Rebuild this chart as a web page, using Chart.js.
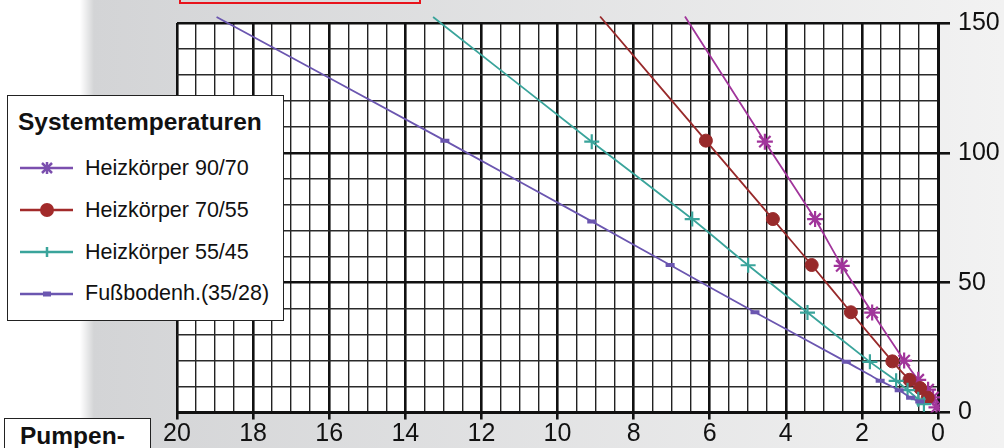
<!DOCTYPE html>
<html>
<head>
<meta charset="utf-8">
<script src="https://cdn.jsdelivr.net/npm/chart.js@4/dist/chart.umd.min.js"></script>
<style>
  html, body { margin: 0; padding: 0; overflow: hidden; background: #fff; }
  #wrap { position: relative; width: 1004px; height: 448px; font-family: "Liberation Sans", Arial, sans-serif; }
  #c { position: absolute; left: 0; top: 0; }
  #redbox { position: absolute; left: 179px; top: -12px; width: 238px; height: 12px; border: 2px solid #e8141c; }
  #legend { position: absolute; left: 7px; top: 95px; width: 275px; height: 224px; background: #fff; border: 1.5px solid #222; }
  #legend .title { position: absolute; left: 10px; top: 12px; font-weight: bold; font-size: 24.5px; line-height: 28px; color: #111; white-space: nowrap; }
  #legend .item { position: absolute; left: 12px; height: 24px; }
  #legend .item svg { position: absolute; left: 0; top: 0; }
  #legend .item span { position: absolute; left: 65px; top: 0; font-size: 21.5px; line-height: 24px; color: #111; white-space: nowrap; }
  #pumpen { position: absolute; left: 4px; top: 418px; width: 145px; height: 40px; background: #fff; border: 1.5px solid #222; }
  #pumpen span { position: absolute; left: 15px; top: 3px; font-weight: bold; font-size: 24.5px; line-height: 28px; color: #111; }
</style>
</head>
<body>
<div id="wrap">
  <canvas id="c" width="1004" height="448"></canvas>
  <div id="redbox"></div>
  <div id="legend">
    <div class="title">Systemtemperaturen</div>
    <div class="item" style="top:60px"><svg width="60" height="24"><line x1="0" y1="12" x2="53" y2="12" stroke="#7b4fae" stroke-width="2.5"/><g stroke="#7b4fae" stroke-width="2.5"><line x1="22" y1="7" x2="32" y2="17"/><line x1="32" y1="7" x2="22" y2="17"/><line x1="27" y1="6" x2="27" y2="18"/></g></svg><span>Heizkörper 90/70</span></div>
    <div class="item" style="top:102px"><svg width="60" height="24"><line x1="0" y1="12" x2="53" y2="12" stroke="#a22a2a" stroke-width="2.5"/><circle cx="27" cy="12" r="7" fill="#a22a2a"/></svg><span>Heizkörper 70/55</span></div>
    <div class="item" style="top:144px"><svg width="60" height="24"><line x1="0" y1="12" x2="53" y2="12" stroke="#3aa49b" stroke-width="2.5"/><line x1="27" y1="7" x2="27" y2="17" stroke="#3aa49b" stroke-width="2.5"/></svg><span>Heizkörper 55/45</span></div>
    <div class="item" style="top:185px"><svg width="60" height="24"><line x1="0" y1="13" x2="53" y2="13" stroke="#6b56b0" stroke-width="2.5"/><rect x="23" y="10.5" width="8" height="5" fill="#6b56b0"/></svg><span>Fußbodenh.(35/28)</span></div>
  </div>
  <div id="pumpen"><span>Pumpen-</span></div>
</div>
<script>
// Heizkörper 90/70
var hk9070X = [6.65, 4.55, 3.23, 2.53, 1.73, 0.89, 0.52, 0.26, 0.13, 0.04];
var hk9070Y = [152.5, 104.3, 74.5, 56.5, 38.5, 20, 12.6, 8.8, 5.8, 2];
// Heizkörper 70/55
var hk7055X = [8.88, 6.10, 4.34, 3.32, 2.29, 1.20, 0.75, 0.47, 0.27];
var hk7055Y = [152.5, 104.7, 74.5, 56.8, 38.6, 19.7, 12.6, 9.4, 5.7];
// Heizkörper 55/45
var hk5545X = [13.27, 9.10, 6.46, 4.99, 3.43, 1.79, 1.10, 0.80, 0.52, 0.37];
var hk5545Y = [152.3, 104.3, 74.5, 56.7, 38.5, 19.5, 12.2, 8.6, 5.1, 3.2];
// Fußbodenheizung 35/28
var fbX = [18.96, 12.96, 9.10, 7.04, 4.81, 2.41, 1.52, 1.02, 0.72, 0.48];
var fbY = [152.3, 104.7, 73.6, 56.8, 38.6, 19.5, 12.2, 8.6, 5.7, 4.2];

var xTicks = [20, 18, 16, 14, 12, 10, 8, 6, 4, 2, 0];
var yTicks = [0, 50, 100, 150];

function pts(xs, ys){
    return xs.map(function(x, i){ return {x: x, y: ys[i]}; });
}
function radii(n, r){
    // first point is the line end above the plot, no marker there
    var a = [];
    for (var i = 0; i < n; i++) a.push(i === 0 ? 0 : r);
    return a;
}

var bgPlugin = {
    id: 'bg',
    beforeDraw: function(chart){
        var ctx = chart.ctx, w = chart.width, h = chart.height, a = chart.chartArea;
        ctx.save();
        var g = ctx.createLinearGradient(93, 0, w, 0);
        g.addColorStop(0, '#d3d4d6');
        g.addColorStop(1, '#f2f2f2');
        ctx.fillStyle = g;
        ctx.fillRect(0, 0, w, h);
        var e = ctx.createLinearGradient(80, 0, 94, 0);
        e.addColorStop(0, '#ffffff');
        e.addColorStop(1, 'rgba(255,255,255,0)');
        ctx.fillStyle = '#fff';
        ctx.fillRect(0, 0, 80, h);
        ctx.fillStyle = e;
        ctx.fillRect(80, 0, 14, h);
        ctx.fillStyle = '#fff';
        ctx.fillRect(a.left, a.top, a.right - a.left, a.bottom - a.top);
        ctx.restore();
    }
};

function isMajor(ctx, step){
    return ctx.tick && Math.abs(ctx.tick.value % step) < 1e-6;
}

var lineDs = function(label, xs, ys, color, style, r, extra){
    var d = {
        label: label,
        data: pts(xs, ys),
        showLine: true,
        borderColor: color,
        backgroundColor: color,
        borderWidth: 1.8,
        pointStyle: style,
        pointRadius: radii(xs.length, r),
        pointBorderWidth: 2.2,
        pointBorderColor: color,
        pointBackgroundColor: color,
        tension: 0.15,
        clip: {left: 0, top: 8, right: 2, bottom: 0}
    };
    for (var k in extra) d[k] = extra[k];
    return d;
};

var tickFont = {family: '"Liberation Sans", Arial, sans-serif', size: 25};

new Chart(document.getElementById('c'), {
    type: 'scatter',
    data: {
        datasets: [
            lineDs('Fußbodenh.(35/28)', fbX, fbY, '#6b56b0', 'line', 4.5, {pointBorderWidth: 4}),
            lineDs('Heizkörper 55/45', hk5545X, hk5545Y, '#3aa49b', 'cross', 7.5, {}),
            lineDs('Heizkörper 70/55', hk7055X, hk7055Y, '#982a2b', 'circle', 6.5, {pointBorderWidth: 1}),
            lineDs('Heizkörper 90/70', hk9070X, hk9070Y, '#a1359b', 'star', 8, {})
        ]
    },
    options: {
        responsive: false,
        animation: false,
        layout: { padding: {left: 177, top: 13.5, right: 0, bottom: 0} },
        plugins: {
            legend: { display: false },
            tooltip: { enabled: false }
        },
        scales: {
            x: {
                type: 'linear',
                reverse: true,
                min: 0,
                max: 20,
                afterFit: function(s){ s.height = 35.5; },
                ticks: {
                    stepSize: 0.5,
                    autoSkip: false,
                    maxRotation: 0,
                    padding: 0,
                    color: '#111',
                    font: tickFont,
                    callback: function(v){ return xTicks.indexOf(v) >= 0 ? String(v) : ''; }
                },
                grid: {
                    color: function(c){ return isMajor(c, 2) ? '#111' : '#222'; },
                    lineWidth: function(c){ return isMajor(c, 2) ? 2.6 : 1.4; },
                    tickLength: 7,
                    tickColor: function(c){ return isMajor(c, 2) ? '#111' : 'rgba(0,0,0,0)'; },
                    tickWidth: 2.6
                },
                border: { color: '#111', width: 3 }
            },
            y: {
                type: 'linear',
                position: 'right',
                min: 0,
                max: 150,
                afterFit: function(s){ s.width = 66; },
                ticks: {
                    stepSize: 10,
                    autoSkip: false,
                    padding: 8,
                    color: '#111',
                    font: tickFont,
                    callback: function(v){ return yTicks.indexOf(v) >= 0 ? String(v) : ''; }
                },
                grid: {
                    color: function(c){ return isMajor(c, 50) ? '#111' : '#2a2a2a'; },
                    lineWidth: function(c){ return isMajor(c, 50) ? 2.6 : 1.4; },
                    tickLength: 12,
                    tickColor: function(c){ return isMajor(c, 50) ? '#111' : 'rgba(0,0,0,0)'; },
                    tickWidth: 2.6
                },
                border: { color: '#111', width: 3 }
            }
        }
    },
    plugins: [bgPlugin]
});
</script>
</body>
</html>
